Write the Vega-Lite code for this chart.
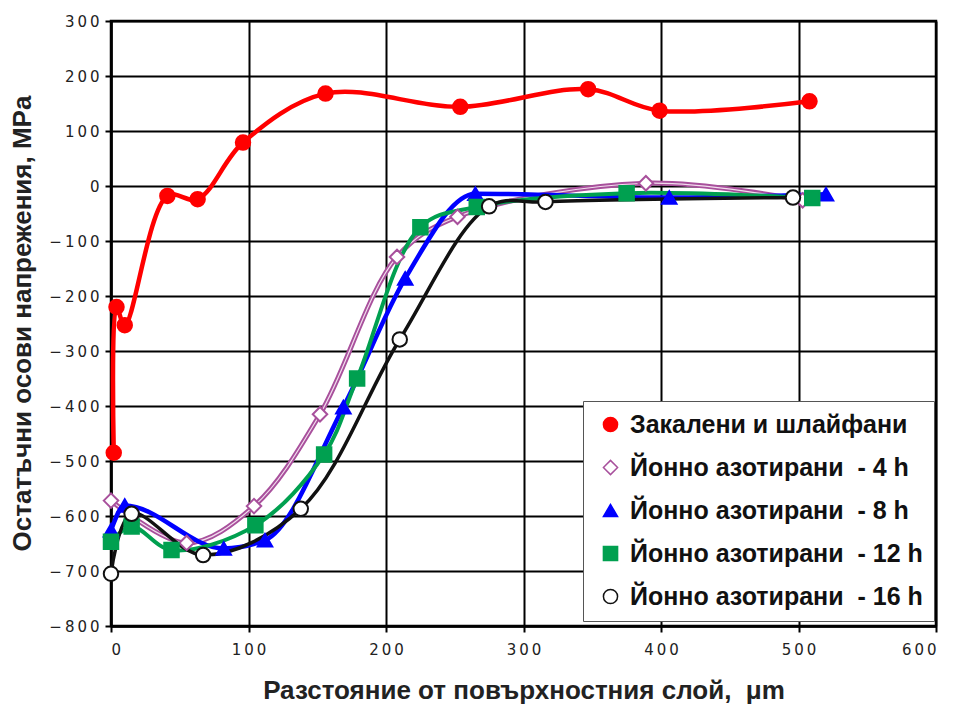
{
  "$schema": "https://vega.github.io/schema/vega-lite/v6.json",
  "width": 825,
  "height": 605,
  "autosize": "none",
  "padding": {"left": 111, "top": 21, "right": 28, "bottom": 82},
  "background": "white",
  "config": {
    "view": {"stroke": "#000", "strokeWidth": 2.5},
    "axis": {
      "domainColor": "#000", "domainWidth": 2.5,
      "gridColor": "#000", "gridWidth": 2, "gridOpacity": 1,
      "tickColor": "#000", "tickWidth": 2, "tickSize": 6,
      "labelFont": "DejaVu Sans", "labelFontSize": 15, "labelColor": "#222",
      "titleFont": "Liberation Sans", "titleFontSize": 26, "titleFontWeight": "bold", "titleColor": "#222"
    }
  },
  "data": {
    "values": [
      {"series": "Закалени и шлайфани", "x": 2, "y": -485},
      {"series": "Закалени и шлайфани", "x": 4, "y": -220},
      {"series": "Закалени и шлайфани", "x": 10, "y": -253},
      {"series": "Закалени и шлайфани", "x": 41, "y": -18},
      {"series": "Закалени и шлайфани", "x": 63, "y": -24},
      {"series": "Закалени и шлайфани", "x": 96, "y": 79},
      {"series": "Закалени и шлайфани", "x": 156, "y": 168},
      {"series": "Закалени и шлайфани", "x": 254, "y": 144},
      {"series": "Закалени и шлайфани", "x": 347, "y": 176},
      {"series": "Закалени и шлайфани", "x": 399, "y": 137},
      {"series": "Закалени и шлайфани", "x": 508, "y": 154},
      {"series": "Йонно азотирани\u00a0\u00a0- 4 h", "x": 0, "y": -572},
      {"series": "Йонно азотирани\u00a0\u00a0- 4 h", "x": 55, "y": -649},
      {"series": "Йонно азотирани\u00a0\u00a0- 4 h", "x": 104, "y": -582},
      {"series": "Йонно азотирани\u00a0\u00a0- 4 h", "x": 152, "y": -415},
      {"series": "Йонно азотирани\u00a0\u00a0- 4 h", "x": 208, "y": -129},
      {"series": "Йонно азотирани\u00a0\u00a0- 4 h", "x": 252, "y": -56},
      {"series": "Йонно азотирани\u00a0\u00a0- 4 h", "x": 389, "y": 5},
      {"series": "Йонно азотирани\u00a0\u00a0- 4 h", "x": 503, "y": -26},
      {"series": "Йонно азотирани\u00a0\u00a0- 8 h", "x": 0, "y": -626},
      {"series": "Йонно азотирани\u00a0\u00a0- 8 h", "x": 10, "y": -581},
      {"series": "Йонно азотирани\u00a0\u00a0- 8 h", "x": 82, "y": -659},
      {"series": "Йонно азотирани\u00a0\u00a0- 8 h", "x": 112, "y": -644},
      {"series": "Йонно азотирани\u00a0\u00a0- 8 h", "x": 169, "y": -402},
      {"series": "Йонно азотирани\u00a0\u00a0- 8 h", "x": 214, "y": -168},
      {"series": "Йонно азотирани\u00a0\u00a0- 8 h", "x": 265, "y": -14},
      {"series": "Йонно азотирани\u00a0\u00a0- 8 h", "x": 406, "y": -21},
      {"series": "Йонно азотирани\u00a0\u00a0- 8 h", "x": 520, "y": -15},
      {"series": "Йонно азотирани\u00a0\u00a0- 12 h", "x": 0, "y": -647},
      {"series": "Йонно азотирани\u00a0\u00a0- 12 h", "x": 15, "y": -619},
      {"series": "Йонно азотирани\u00a0\u00a0- 12 h", "x": 44, "y": -662},
      {"series": "Йонно азотирани\u00a0\u00a0- 12 h", "x": 105, "y": -617},
      {"series": "Йонно азотирани\u00a0\u00a0- 12 h", "x": 155, "y": -488},
      {"series": "Йонно азотирани\u00a0\u00a0- 12 h", "x": 179, "y": -350},
      {"series": "Йонно азотирани\u00a0\u00a0- 12 h", "x": 225, "y": -75},
      {"series": "Йонно азотирани\u00a0\u00a0- 12 h", "x": 266, "y": -38},
      {"series": "Йонно азотирани\u00a0\u00a0- 12 h", "x": 375, "y": -13},
      {"series": "Йонно азотирани\u00a0\u00a0- 12 h", "x": 510, "y": -22},
      {"series": "Йонно азотирани\u00a0\u00a0- 16 h", "x": 0, "y": -705},
      {"series": "Йонно азотирани\u00a0\u00a0- 16 h", "x": 15, "y": -596},
      {"series": "Йонно азотирани\u00a0\u00a0- 16 h", "x": 67, "y": -671},
      {"series": "Йонно азотирани\u00a0\u00a0- 16 h", "x": 138, "y": -587},
      {"series": "Йонно азотирани\u00a0\u00a0- 16 h", "x": 210, "y": -279},
      {"series": "Йонно азотирани\u00a0\u00a0- 16 h", "x": 275, "y": -37},
      {"series": "Йонно азотирани\u00a0\u00a0- 16 h", "x": 316, "y": -29},
      {"series": "Йонно азотирани\u00a0\u00a0- 16 h", "x": 496, "y": -21}
    ]
  },
  "encoding": {
    "x": {
      "field": "x", "type": "quantitative",
      "scale": {"domain": [0, 600], "nice": false, "zero": false},
      "axis": {
        "values": [0, 100, 200, 300, 400, 500, 600],
        "labelPadding": 10,
        "labelExpr": "join(split(datum.label, ''), '\u2009')",
        "title": "Разстояние от повърхностния слой,\u00a0 μm",
        "titleY": 64, "titleBaseline": "middle"
      }
    },
    "y": {
      "field": "y", "type": "quantitative",
      "scale": {"domain": [-800, 300], "nice": false, "zero": false},
      "axis": {
        "values": [-800, -700, -600, -500, -400, -300, -200, -100, 0, 100, 200, 300],
        "labelPadding": 6,
        "labelExpr": "join(split(datum.label, ''), '\u2009')",
        "title": "Остатъчни осови напрежения, MPa",
        "titleX": -89, "titleY": 302, "titleBaseline": "middle"
      }
    }
  },
  "layer": [
    {
      "transform": [{"filter": "datum.series === 'Закалени и шлайфани'"}],
      "mark": {"type": "line", "interpolate": "catmull-rom", "stroke": "#FF0000", "strokeWidth": 4.5}
    },
    {
      "transform": [{"filter": "indexof(datum.series, '- 4 h') >= 0"}],
      "mark": {"type": "line", "interpolate": "catmull-rom", "stroke": "#A8509C", "strokeWidth": 5}
    },
    {
      "transform": [{"filter": "indexof(datum.series, '- 4 h') >= 0"}],
      "mark": {"type": "line", "interpolate": "catmull-rom", "stroke": "#F2DDEE", "strokeWidth": 1.2}
    },
    {
      "transform": [{"filter": "indexof(datum.series, '- 8 h') >= 0"}],
      "mark": {"type": "line", "interpolate": "monotone", "stroke": "#0000FF", "strokeWidth": 4.5}
    },
    {
      "transform": [{"filter": "indexof(datum.series, '- 12 h') >= 0"}],
      "mark": {"type": "line", "interpolate": "catmull-rom", "stroke": "#00A050", "strokeWidth": 4}
    },
    {
      "transform": [{"filter": "indexof(datum.series, '- 16 h') >= 0"}],
      "mark": {"type": "line", "interpolate": "catmull-rom", "stroke": "#111111", "strokeWidth": 3.5}
    },
    {
      "mark": {"type": "point", "filled": true, "opacity": 1, "strokeWidth": 2, "size": 210},
      "encoding": {
        "shape": {
          "field": "series", "type": "nominal",
          "scale": {
            "domain": ["Закалени и шлайфани", "Йонно азотирани\u00a0\u00a0- 4 h", "Йонно азотирани\u00a0\u00a0- 8 h", "Йонно азотирани\u00a0\u00a0- 12 h", "Йонно азотирани\u00a0\u00a0- 16 h"],
            "range": ["circle", "diamond", "triangle-up", "square", "circle"]
          },
          "legend": {"title": null, "orient": "none", "legendX": 472, "legendY": 380, "fillColor": "white", "strokeColor": "#555", "padding": 11, "rowPadding": 17, "labelFont": "Liberation Sans", "labelFontSize": 25, "labelFontWeight": "bold", "labelColor": "#111", "symbolSize": 200, "symbolStrokeWidth": 1.5, "symbolOffset": 4, "labelOffset": 7, "labelLimit": 400}
        },
        "fill": {
          "field": "series", "type": "nominal",
          "scale": {
            "domain": ["Закалени и шлайфани", "Йонно азотирани\u00a0\u00a0- 4 h", "Йонно азотирани\u00a0\u00a0- 8 h", "Йонно азотирани\u00a0\u00a0- 12 h", "Йонно азотирани\u00a0\u00a0- 16 h"],
            "range": ["#FF0000", "#FFFFFF", "#0000FF", "#00A050", "#FFFFFF"]
          },
          "legend": {"title": null, "orient": "none", "legendX": 472, "legendY": 380, "fillColor": "white", "strokeColor": "#555", "padding": 11, "rowPadding": 17, "labelFont": "Liberation Sans", "labelFontSize": 25, "labelFontWeight": "bold", "labelColor": "#111", "symbolSize": 200, "symbolStrokeWidth": 1.5, "symbolOffset": 4, "labelOffset": 7, "labelLimit": 400}
        },
        "stroke": {
          "field": "series", "type": "nominal",
          "scale": {
            "domain": ["Закалени и шлайфани", "Йонно азотирани\u00a0\u00a0- 4 h", "Йонно азотирани\u00a0\u00a0- 8 h", "Йонно азотирани\u00a0\u00a0- 12 h", "Йонно азотирани\u00a0\u00a0- 16 h"],
            "range": ["#FF0000", "#A8509C", "#0000FF", "#00A050", "#111111"]
          },
          "legend": {"title": null, "orient": "none", "legendX": 472, "legendY": 380, "fillColor": "white", "strokeColor": "#555", "padding": 11, "rowPadding": 17, "labelFont": "Liberation Sans", "labelFontSize": 25, "labelFontWeight": "bold", "labelColor": "#111", "symbolSize": 200, "symbolStrokeWidth": 1.5, "symbolOffset": 4, "labelOffset": 7, "labelLimit": 400}
        }
      }
    }
  ]
}
